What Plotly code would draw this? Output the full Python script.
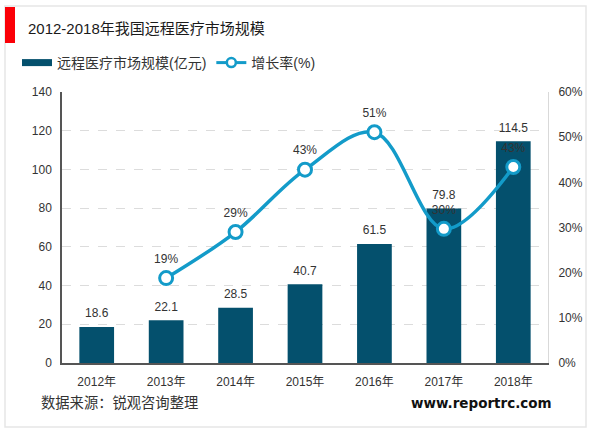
import plotly.graph_objects as go

# 数据
years = ["2012年", "2013年", "2014年", "2015年", "2016年", "2017年", "2018年"]
market_size = [18.6, 22.1, 28.5, 40.7, 61.5, 79.8, 114.5]
growth_years = years[1:]
growth_rate = [18.8, 29.0, 42.8, 51.1, 29.7, 43.4]

size_ticks = [0, 20, 40, 60, 80, 100, 120, 140]
rate_ticks = [0, 10, 20, 30, 40, 50, 60]
rate_labels = ["0%", "10%", "20%", "30%", "40%", "50%", "60%"]

WIDTH, HEIGHT = 600, 433
M_L, M_R, M_T, M_B = 62, 52, 92, 70
FONT = "Liberation Sans, Noto Sans CJK SC, sans-serif"
BAR_COLOR = "#04506d"
LINE_COLOR = "#139bc9"
TEXT_COLOR = "#333333"


# 像素坐标换算成 paper 坐标（paper 是绘图区，不是整张图）
def px(x):
    return (x - M_L) / (WIDTH - M_L - M_R)


def py(y):
    return (HEIGHT - M_B - y) / (HEIGHT - M_T - M_B)


fig = go.Figure()

fig.add_trace(go.Bar(
    x=years, y=market_size, width=0.5,
    marker=dict(color=BAR_COLOR, line=dict(width=0)),
    showlegend=False,
))

# 柱子数值标签：透明点把文字往上抬
fig.add_trace(go.Scatter(
    x=years, y=market_size, mode="markers+text",
    marker=dict(size=9, opacity=0),
    text=[f"{v:.1f}" for v in market_size],
    textposition="top center", cliponaxis=False,
    textfont=dict(size=12, color=TEXT_COLOR),
    showlegend=False, hoverinfo="skip",
))

# 图例里要细长条，用一条空折线代替柱子的图例
fig.add_trace(go.Scatter(
    x=[None], y=[None], mode="lines", name="远程医疗市场规模(亿元)",
    line=dict(color=BAR_COLOR, width=7),
))

fig.add_trace(go.Scatter(
    x=growth_years, y=growth_rate, yaxis="y2",
    mode="lines+markers",
    line=dict(color=LINE_COLOR, width=3.5, shape="spline", smoothing=1.0),
    marker=dict(size=13, color="white", line=dict(color=LINE_COLOR, width=3)),
    showlegend=False,
))

# 增长率标签
fig.add_trace(go.Scatter(
    x=growth_years, y=growth_rate, yaxis="y2", mode="markers+text",
    marker=dict(size=18, opacity=0),
    text=[f"{v:.0f}%" for v in growth_rate],
    textposition="top center", cliponaxis=False,
    textfont=dict(size=12, color=TEXT_COLOR),
    showlegend=False, hoverinfo="skip",
))

# 图例里的标记比图上小一些
fig.add_trace(go.Scatter(
    x=[None], y=[None], yaxis="y2", name="增长率(%)", mode="lines+markers",
    line=dict(color=LINE_COLOR, width=3),
    marker=dict(size=9, color="white", line=dict(color=LINE_COLOR, width=2.5)),
))

shapes = [
    # 外框
    dict(type="rect", xref="paper", yref="paper", layer="below",
         x0=px(5), x1=px(586), y0=py(427), y1=py(6),
         line=dict(color="#e6e6e6", width=1.5), fillcolor="white"),
    # 标题左边的红块
    dict(type="rect", xref="paper", yref="paper",
         x0=px(5), x1=px(15), y0=py(43), y1=py(7),
         line=dict(width=0), fillcolor="#fb0007"),
]

annotations = [
    dict(text="2012-2018年我国远程医疗市场规模", x=px(26), y=py(28),
         font=dict(size=15, color="#1a1a1a")),
    dict(text="数据来源：锐观咨询整理", x=px(39), y=py(403),
         font=dict(size=14.3, color=TEXT_COLOR)),
    dict(text="<b>www.reportrc.com</b>", x=px(409), y=py(403),
         font=dict(size=13.5, color="#111111", family="DejaVu Sans, sans-serif")),
]
for a in annotations:
    a.update(xref="paper", yref="paper", xanchor="left", yanchor="middle",
             showarrow=False)

fig.update_layout(
    width=WIDTH, height=HEIGHT,
    autosize=False,
    margin=dict(l=M_L, r=M_R, t=M_T, b=M_B, pad=0, autoexpand=False),
    paper_bgcolor="white", plot_bgcolor="rgba(0,0,0,0)",
    font=dict(family=FONT, size=12, color=TEXT_COLOR),
    bargap=0.5,
    shapes=shapes,
    annotations=annotations,
    legend=dict(orientation="h", x=px(17), y=py(47), xanchor="left", yanchor="top",
                font=dict(size=14, color=TEXT_COLOR), bgcolor="rgba(0,0,0,0)",
                itemwidth=30),
    xaxis=dict(type="category", categoryorder="array", categoryarray=years,
               range=[-0.5, 6.5],
               showline=True, linecolor="#555555", linewidth=1.5,
               ticks="outside", ticklen=7, tickcolor="rgba(0,0,0,0)",
               showgrid=False, tickfont=dict(size=12)),
    yaxis=dict(range=[0, 140], tickvals=size_ticks, showline=True,
               linecolor="#555555", linewidth=1.5,
               ticks="outside", ticklen=6, tickcolor="rgba(0,0,0,0)",
               gridcolor="#dcdcdc", griddash="dash", gridwidth=1,
               zeroline=False, tickfont=dict(size=12)),
    yaxis2=dict(range=[0, 60], tickvals=rate_ticks, ticktext=rate_labels,
                overlaying="y", side="right", showgrid=False, zeroline=False,
                showline=True, linecolor="#d9d9d9", linewidth=1,
                ticks="outside", ticklen=7, tickcolor="rgba(0,0,0,0)",
                tickfont=dict(size=12)),
)

# 去掉 body 默认的 8px 外边距，也不要工具栏
fig.write_html("out.html", config=dict(displayModeBar=False),
               post_script="document.body.style.margin='0';")
